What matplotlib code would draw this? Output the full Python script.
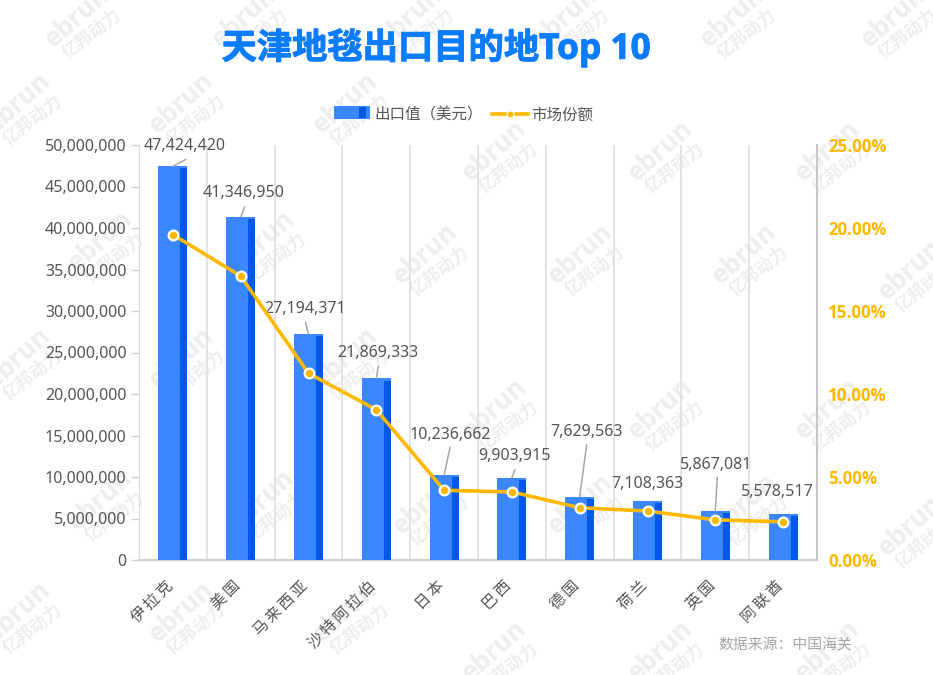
# -*- coding: utf-8 -*-
import matplotlib
matplotlib.use('Agg')
from matplotlib import pyplot as plt
from matplotlib import patheffects
from matplotlib.legend_handler import HandlerBase
from matplotlib.lines import Line2D
from matplotlib.patches import Patch, Rectangle
from matplotlib.ticker import FuncFormatter, MultipleLocator
from matplotlib.transforms import ScaledTranslation
import numpy as np

plt.rcParams['font.family'] = ['Noto Sans', 'Noto Sans CJK SC', 'DejaVu Sans']
BOLD_FONT = ['Open Sans', 'Noto Sans CJK SC', 'DejaVu Sans']

countries = ['伊拉克', '美国', '马来西亚', '沙特阿拉伯', '日本', '巴西', '德国', '荷兰', '英国', '阿联酋']
export_value = [47424420, 41346950, 27194371, 21869333, 10236662, 9903915, 7629563, 7108363, 5867081, 5578517]
market_share = [19.6, 17.1, 11.25, 9.05, 4.2, 4.1, 3.15, 2.95, 2.42, 2.3]

# label and leader line end, as pixel offsets from the bar top
label_dx = [12, 3, -3, 2, 6, 3, 7, 0, 1, -6]
label_dy = [20, 24, 25, 25, 40, 22, 65, 17, 46, 22]
leader_dx = [13, 4, -3, 2, 6, 3, 7, 0, 2, 0]
leader_dy = [7, 10, 12, 12, 28, 8, 52, 0, 34, 0]

# watermark tiles, pixel centre of the ebrun text
mark_x = [77, 244, 410, 565, 732, 893,
          18, 181, 345, 494, 660, 827,
          100, 262, 425, 580, 744, 910,
          18, 181, 345, 494, 660, 827,
          100, 262, 425, 580, 744, 910,
          18, 181, 345, 494, 660, 827]
mark_y = [17, 17, 17, 17, 17, 17,
          103, 103, 103, 151, 151, 151,
          241, 241, 254, 254, 254, 270,
          358, 358, 358, 409, 409, 409,
          500, 500, 504, 504, 504, 526,
          612, 612, 612, 651, 651, 651]

BLUE = '#3b87ff'
DARK = '#0059e6'
ORANGE = '#ffb800'
TEXT = '#555555'
MARK = '#eeeeee'
W, H = 933, 675

fig = plt.figure(figsize=(W / 100, H / 100), dpi=100, facecolor='white')
ax = fig.add_axes([139 / W, 1 - 560 / H, (817 - 139) / W, (560 - 145) / H])
ax2 = ax.twinx()

for cx, cy in zip(mark_x, mark_y):
    fig.text(cx / W, 1 - cy / H, 'ebrun', rotation=42, fontsize=18.5, color=MARK, family=BOLD_FONT,
             ha='center', va='center', fontweight='bold', zorder=0)
    fig.text((cx + 15) / W, 1 - (cy + 17) / H, '亿邦动力', rotation=38, fontsize=12.5, color=MARK, family=BOLD_FONT,
             ha='center', va='center', fontweight='bold', zorder=0)

x = np.arange(len(countries))
bw = 29 / 67.8
ax.set_zorder(2)
ax2.set_zorder(3)
ax.patch.set_alpha(0)
ax2.patch.set_alpha(0)

ax.bar(x, export_value, width=bw, color=BLUE, zorder=3)
ax.bar(x + bw * 0.38, np.array(export_value) - 250000, width=bw * 0.24, color=DARK, zorder=4)

ax.set_xlim(-0.5, 9.5)
ax.set_ylim(0, 50000000)
ax.yaxis.set_major_locator(MultipleLocator(5000000))
ax.yaxis.set_major_formatter(FuncFormatter(lambda v, p: f'{int(v):,}'))
ax.set_xticks(x)
ax.set_xticklabels(['\u2009'.join(c) for c in countries], rotation=45, ha='right', rotation_mode='anchor',
                   fontsize=11.2, color=TEXT)
ax.set_xticks(np.arange(-0.5, 10, 1), minor=True)
ax.grid(True, which='minor', axis='x', color='#dedede', lw=1.2, zorder=1)
ax.tick_params(axis='x', which='both', length=0, pad=13)
ax.tick_params(axis='y', length=6, width=1, color='#d0d0d0', labelsize=11.5, labelcolor=TEXT, pad=3)
shift = ScaledTranslation(-8 / 100, 0, fig.dpi_scale_trans)
for t in ax.get_xticklabels():
    t.set_transform(t.get_transform() + shift)

ax.spines['top'].set_visible(False)
ax2.spines['top'].set_visible(False)
ax.spines['left'].set_color('#dedede')
ax.spines['bottom'].set_color('#cccccc')
ax.spines['bottom'].set_linewidth(1.3)
ax.spines['right'].set_visible(False)
ax2.spines['left'].set_visible(False)
ax2.spines['bottom'].set_visible(False)
ax2.spines['right'].set_color('#c8c8c8')
ax2.spines['right'].set_linewidth(1.5)

ax2.plot(x, market_share, color=ORANGE, lw=2.6, marker='o', ms=7, mfc=ORANGE, mec='white', mew=1.6, zorder=5,
         solid_joinstyle='round')
ax2.set_ylim(0, 25)
ax2.yaxis.set_major_locator(MultipleLocator(5))
ax2.yaxis.set_major_formatter(FuncFormatter(lambda v, p: f'{v:.2f}%'))
ax2.tick_params(axis='y', length=0, labelsize=12.2, labelcolor=ORANGE, pad=8)
for t in ax2.get_yticklabels():
    t.set_fontweight('bold')
    t.set_family(BOLD_FONT)

# data labels with leader lines
for i, v in enumerate(export_value):
    if leader_dy[i] > 0:
        ax.annotate('', xy=(i, v), xytext=(leader_dx[i] * 0.72, leader_dy[i] * 0.72), textcoords='offset points',
                    zorder=6, arrowprops=dict(arrowstyle='-', color='#a6a6a6', lw=1.1, shrinkA=0, shrinkB=0))
    ax.annotate(f'{v:,}', xy=(i, v), xytext=(label_dx[i] * 0.72, label_dy[i] * 0.72), textcoords='offset points',
                ha='center', va='center', fontsize=11.5, color=TEXT, zorder=6)


class BarKey(HandlerBase):
    def create_artists(self, legend, orig, xd, yd, width, height, fontsize, trans):
        a = Rectangle((xd, yd), width, height, facecolor=BLUE, transform=trans)
        b = Rectangle((xd + width * 0.68, yd + 1), width * 0.2, height - 2, facecolor=DARK, transform=trans)
        return [a, b]


handles = [Patch(label='出口值（美元）'),
           Line2D([], [], color=ORANGE, lw=2.6, marker='o', ms=5, mfc=ORANGE, mec='white', mew=0.8, label='市场份额')]
fig.legend(handles=handles, loc='center', bbox_to_anchor=(464 / W, 1 - 116 / H), ncol=2, frameon=False, fontsize=11.2,
           labelcolor=TEXT, handlelength=2.3, handleheight=0.9, handletextpad=0.25, columnspacing=0.6,
           handler_map={Patch: BarKey()})

title = fig.text(436 / W, 1 - 48 / H, '天津地毯出口目的地Top 10', fontsize=25.4, fontweight='bold', color='#0a7cff',
                 family=BOLD_FONT, ha='center', va='center')
title.set_path_effects([patheffects.withStroke(linewidth=0.7, foreground='#0a7cff')])
fig.text(852 / W, 1 - 646 / H, '数据来源：中国海关', fontsize=10.7, color='#a6a6a6', ha='right', va='center')

fig.savefig('out.png', dpi=100)
